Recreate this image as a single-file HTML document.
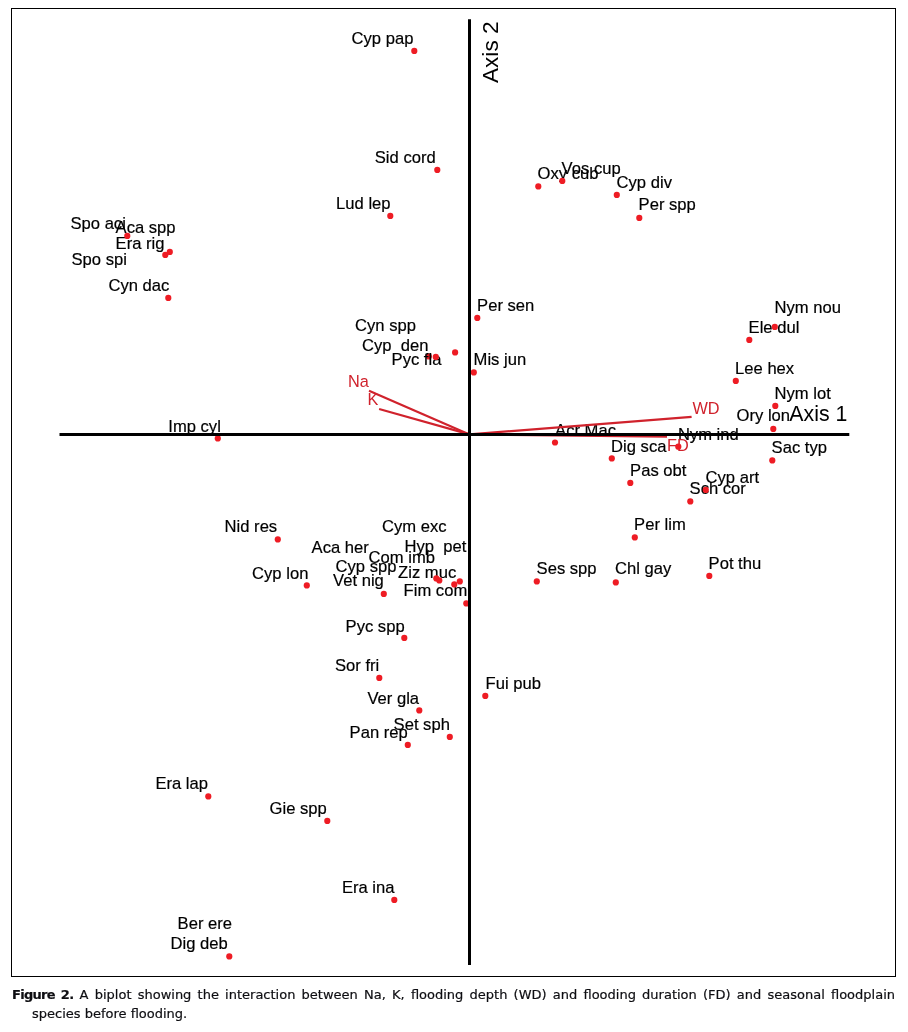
<!DOCTYPE html>
<html lang="en">
<head>
<meta charset="utf-8">
<title>Figure 2 biplot</title>
<style>
html,body{margin:0;padding:0;background:#fff;}
body{width:908px;height:1032px;position:relative;overflow:hidden;font-family:"Liberation Sans",sans-serif;}
svg{position:absolute;left:0;top:0;display:block;}
svg text{font-family:"Liberation Sans",sans-serif;}
.lb{font-size:16.6px;fill:#000;stroke:#000;stroke-width:0.18px;}
.rl{font-size:16.3px;fill:#d0222c;}
.ax{font-size:21.3px;fill:#000;}
.ay{font-size:22.6px;fill:#000;}
.cap{position:absolute;left:12px;top:984.65px;width:883px;font-size:13px;line-height:19.7px;color:#0e0e12;-webkit-text-stroke:0.2px #0e0e12;font-family:"DejaVu Sans","Liberation Sans",sans-serif;}
.cap .l1{display:block;text-align:justify;text-align-last:justify;white-space:nowrap;}
.cap .l2{display:block;padding-left:20px;}
.cap b{letter-spacing:-0.7px;}
</style>
</head>
<body>
<svg width="908" height="1032" viewBox="0 0 908 1032">
<rect x="11.5" y="8.5" width="884" height="968" fill="#fff" stroke="#000" stroke-width="1"/>
<circle cx="428.8" cy="356.4" r="3.1" fill="#ee1c24"/>
<text class="lb" x="351.6" y="43.8" xml:space="preserve">Cyp pap</text>
<text class="lb" x="374.8" y="162.8" xml:space="preserve">Sid cord</text>
<text class="lb" x="336.1" y="209.3" xml:space="preserve">Lud lep</text>
<text class="lb" x="70.5" y="229.3" xml:space="preserve">Spo aci</text>
<text class="lb" x="115.6" y="233.3" xml:space="preserve">Aca spp</text>
<text class="lb" x="115.6" y="248.8" xml:space="preserve">Era rig</text>
<text class="lb" x="71.5" y="264.8" xml:space="preserve">Spo spi</text>
<text class="lb" x="108.5" y="291.3" xml:space="preserve">Cyn dac</text>
<text class="lb" x="355.1" y="330.8" xml:space="preserve">Cyn spp</text>
<text class="lb" x="362.1" y="350.8" xml:space="preserve">Cyp  den</text>
<text class="lb" x="391.6" y="365.3" xml:space="preserve">Pyc fla</text>
<text class="lb" x="168.3" y="431.9" xml:space="preserve">Imp cyl</text>
<text class="lb" x="537.6" y="179.3" xml:space="preserve">Oxy cub</text>
<text class="lb" x="561.6" y="174.3" xml:space="preserve">Vos cup</text>
<text class="lb" x="616.6" y="187.8" xml:space="preserve">Cyp div</text>
<text class="lb" x="638.6" y="210.3" xml:space="preserve">Per spp</text>
<text class="lb" x="477.1" y="310.8" xml:space="preserve">Per sen</text>
<text class="lb" x="473.6" y="365.3" xml:space="preserve">Mis jun</text>
<text class="lb" x="774.6" y="312.8" xml:space="preserve">Nym nou</text>
<text class="lb" x="748.6" y="332.8" xml:space="preserve">Ele dul</text>
<text class="lb" x="735.1" y="373.8" xml:space="preserve">Lee hex</text>
<text class="lb" x="774.6" y="398.8" xml:space="preserve">Nym lot</text>
<text class="lb" x="736.6" y="421.3" xml:space="preserve">Ory lon</text>
<text class="lb" x="555.1" y="436.0" xml:space="preserve">Acr Mac</text>
<text class="lb" x="677.9" y="439.8" xml:space="preserve">Nym ind</text>
<text class="lb" x="611.1" y="451.8" xml:space="preserve">Dig sca</text>
<text class="lb" x="771.6" y="453.3" xml:space="preserve">Sac typ</text>
<text class="lb" x="630.1" y="475.8" xml:space="preserve">Pas obt</text>
<text class="lb" x="705.6" y="482.8" xml:space="preserve">Cyp art</text>
<text class="lb" x="689.6" y="494.3" xml:space="preserve">Sch cor</text>
<text class="lb" x="634.1" y="530.3" xml:space="preserve">Per lim</text>
<text class="lb" x="536.6" y="573.8" xml:space="preserve">Ses spp</text>
<text class="lb" x="615.1" y="574.3" xml:space="preserve">Chl gay</text>
<text class="lb" x="708.6" y="568.8" xml:space="preserve">Pot thu</text>
<text class="lb" x="224.6" y="532.3" xml:space="preserve">Nid res</text>
<text class="lb" x="382.1" y="532.3" xml:space="preserve">Cym exc</text>
<text class="lb" x="311.6" y="552.8" xml:space="preserve">Aca her</text>
<text class="lb" x="404.6" y="552.3" xml:space="preserve">Hyp  pet</text>
<text class="lb" x="368.6" y="562.8" xml:space="preserve">Com imb</text>
<text class="lb" x="335.6" y="571.8" xml:space="preserve">Cyp spp</text>
<text class="lb" x="398.1" y="577.8" xml:space="preserve">Ziz muc</text>
<text class="lb" x="252.1" y="578.8" xml:space="preserve">Cyp lon</text>
<text class="lb" x="333.1" y="586.3" xml:space="preserve">Vet nig</text>
<text class="lb" x="403.6" y="596.3" xml:space="preserve">Fim com</text>
<text class="lb" x="345.6" y="631.5" xml:space="preserve">Pyc spp</text>
<text class="lb" x="335.0" y="671.3" xml:space="preserve">Sor fri</text>
<text class="lb" x="367.4" y="703.8" xml:space="preserve">Ver gla</text>
<text class="lb" x="393.6" y="729.8" xml:space="preserve">Set sph</text>
<text class="lb" x="349.6" y="737.8" xml:space="preserve">Pan rep</text>
<text class="lb" x="485.6" y="688.7" xml:space="preserve">Fui pub</text>
<text class="lb" x="155.4" y="789.1" xml:space="preserve">Era lap</text>
<text class="lb" x="269.6" y="814.0" xml:space="preserve">Gie spp</text>
<text class="lb" x="341.9" y="892.5" xml:space="preserve">Era ina</text>
<text class="lb" x="177.6" y="929.1" xml:space="preserve">Ber ere</text>
<text class="lb" x="170.6" y="949.1" xml:space="preserve">Dig deb</text>
<text class="rl" x="348" y="386.5">Na</text>
<text class="rl" x="367.5" y="405">K</text>
<text class="rl" x="692.5" y="413.5">WD</text>
<text class="rl" x="667.1" y="451">FD</text>
<circle cx="414.3" cy="50.9" r="3.1" fill="#ee1c24"/>
<circle cx="437.3" cy="169.9" r="3.1" fill="#ee1c24"/>
<circle cx="390.3" cy="215.9" r="3.1" fill="#ee1c24"/>
<circle cx="127.3" cy="235.9" r="3.1" fill="#ee1c24"/>
<circle cx="169.8" cy="251.9" r="3.1" fill="#ee1c24"/>
<circle cx="165.3" cy="254.9" r="3.1" fill="#ee1c24"/>
<circle cx="168.3" cy="297.9" r="3.1" fill="#ee1c24"/>
<circle cx="435.8" cy="356.9" r="3.1" fill="#ee1c24"/>
<circle cx="455.1" cy="352.4" r="3.1" fill="#ee1c24"/>
<circle cx="217.8" cy="438.4" r="3.1" fill="#ee1c24"/>
<circle cx="538.3" cy="186.4" r="3.1" fill="#ee1c24"/>
<circle cx="562.3" cy="180.9" r="3.1" fill="#ee1c24"/>
<circle cx="616.8" cy="194.9" r="3.1" fill="#ee1c24"/>
<circle cx="639.3" cy="217.9" r="3.1" fill="#ee1c24"/>
<circle cx="477.3" cy="317.9" r="3.1" fill="#ee1c24"/>
<circle cx="473.8" cy="372.4" r="3.1" fill="#ee1c24"/>
<circle cx="774.8" cy="326.9" r="3.1" fill="#ee1c24"/>
<circle cx="749.3" cy="339.9" r="3.1" fill="#ee1c24"/>
<circle cx="735.8" cy="380.9" r="3.1" fill="#ee1c24"/>
<circle cx="775.3" cy="405.9" r="3.1" fill="#ee1c24"/>
<circle cx="773.3" cy="428.9" r="3.1" fill="#ee1c24"/>
<circle cx="555.0" cy="442.5" r="3.1" fill="#ee1c24"/>
<circle cx="678.3" cy="446.7" r="3.1" fill="#ee1c24"/>
<circle cx="611.8" cy="458.4" r="3.1" fill="#ee1c24"/>
<circle cx="772.3" cy="460.4" r="3.1" fill="#ee1c24"/>
<circle cx="630.3" cy="482.9" r="3.1" fill="#ee1c24"/>
<circle cx="705.8" cy="489.9" r="3.1" fill="#ee1c24"/>
<circle cx="690.3" cy="501.4" r="3.1" fill="#ee1c24"/>
<circle cx="634.8" cy="537.4" r="3.1" fill="#ee1c24"/>
<circle cx="536.8" cy="581.4" r="3.1" fill="#ee1c24"/>
<circle cx="615.8" cy="582.4" r="3.1" fill="#ee1c24"/>
<circle cx="709.3" cy="575.9" r="3.1" fill="#ee1c24"/>
<circle cx="277.8" cy="539.4" r="3.1" fill="#ee1c24"/>
<circle cx="306.8" cy="585.4" r="3.1" fill="#ee1c24"/>
<circle cx="383.8" cy="593.9" r="3.1" fill="#ee1c24"/>
<circle cx="436.3" cy="578.4" r="3.1" fill="#ee1c24"/>
<circle cx="439.3" cy="580.4" r="3.1" fill="#ee1c24"/>
<circle cx="454.3" cy="584.4" r="3.1" fill="#ee1c24"/>
<circle cx="459.8" cy="581.4" r="3.1" fill="#ee1c24"/>
<circle cx="466.3" cy="603.4" r="3.1" fill="#ee1c24"/>
<circle cx="404.3" cy="637.9" r="3.1" fill="#ee1c24"/>
<circle cx="379.3" cy="677.9" r="3.1" fill="#ee1c24"/>
<circle cx="419.3" cy="710.4" r="3.1" fill="#ee1c24"/>
<circle cx="449.8" cy="736.9" r="3.1" fill="#ee1c24"/>
<circle cx="407.8" cy="744.9" r="3.1" fill="#ee1c24"/>
<circle cx="485.3" cy="695.9" r="3.1" fill="#ee1c24"/>
<circle cx="208.3" cy="796.4" r="3.1" fill="#ee1c24"/>
<circle cx="327.3" cy="820.9" r="3.1" fill="#ee1c24"/>
<circle cx="394.3" cy="899.9" r="3.1" fill="#ee1c24"/>
<circle cx="229.3" cy="956.4" r="3.1" fill="#ee1c24"/>
<line x1="469.5" y1="434.4" x2="369" y2="390.7" stroke="#d0222c" stroke-width="2.2"/>
<line x1="469.5" y1="434.4" x2="379.1" y2="409" stroke="#d0222c" stroke-width="2.2"/>
<line x1="469.5" y1="434.4" x2="691.6" y2="416.8" stroke="#d0222c" stroke-width="2.2"/>
<line x1="469.5" y1="434.4" x2="667" y2="436.6" stroke="#d0222c" stroke-width="2.2"/>
<line x1="59.5" y1="434.5" x2="849.3" y2="434.5" stroke="#000" stroke-width="3"/>
<line x1="469.5" y1="19.2" x2="469.5" y2="965" stroke="#000" stroke-width="3"/>
<text class="ax" x="789.3" y="421">Axis 1</text>
<text class="ay" transform="translate(497.8,83) rotate(-90)">Axis 2</text>
</svg>
<div class="cap"><span class="l1"><b>Figure 2.</b> A biplot showing the interaction between Na, K, flooding depth (WD) and flooding duration (FD) and seasonal floodplain</span><span class="l2">species before flooding.</span></div>
</body>
</html>
